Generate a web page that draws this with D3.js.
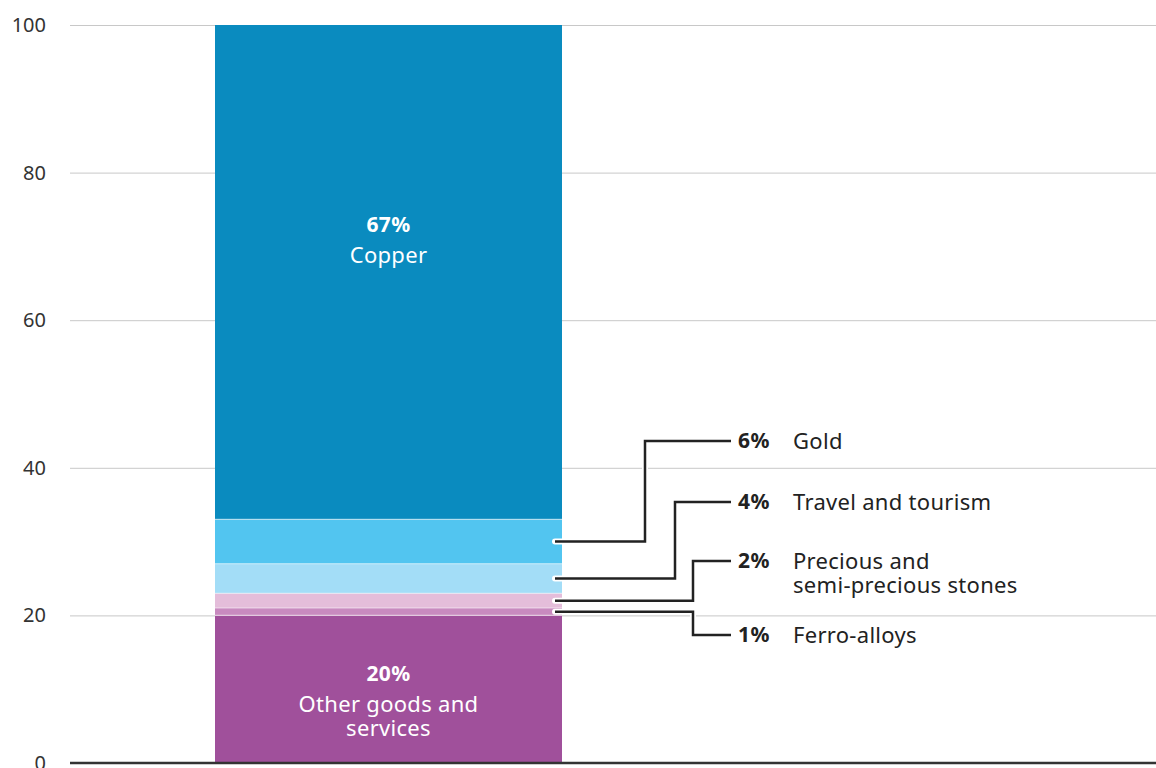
<!DOCTYPE html>
<html>
<head>
<meta charset="utf-8">
<script src="https://cdn.jsdelivr.net/npm/d3@7"></script>
<style>
  html, body { margin: 0; padding: 0; background: #fff; }
  svg { display: block; font-family: "Noto Sans", "Open Sans", sans-serif; }
</style>
</head>
<body>
<svg id="chart" width="1156" height="768"></svg>
<script>
// Export composition, share of total (%), stacked bottom to top
const segments = ["Other goods and services", "Ferro-alloys", "Precious and semi-precious stones", "Travel and tourism", "Gold", "Copper"];
const shares = [20, 1, 2, 4, 6, 67];
const colors = ["#a0509b", "#c88abf", "#e4bdda", "#a3ddf7", "#52c5f0", "#0a8bbf"];
const yTicks = [0, 20, 40, 60, 80, 100];

// Segments labelled inside the bar, and those labelled with callouts
const insideLines = {
  "Copper": ["Copper"],
  "Other goods and services": ["Other goods and", "services"]
};
const calloutLines = {
  "Gold": ["Gold"],
  "Travel and tourism": ["Travel and tourism"],
  "Precious and semi-precious stones": ["Precious and", "semi-precious stones"],
  "Ferro-alloys": ["Ferro-alloys"]
};
// Callout geometry: label row y and x of the elbow, per segment
const calloutLayout = {
  "Gold": { labelY: 441, elbowX: 645 },
  "Travel and tourism": { labelY: 502, elbowX: 675 },
  "Precious and semi-precious stones": { labelY: 561, elbowX: 693 },
  "Ferro-alloys": { labelY: 635, elbowX: 693 }
};

const svg = d3.select("#chart");
const plotLeft = 70, plotRight = 1156, plotTop = 25, plotBottom = 763;

const y = d3.scaleLinear().domain([0, 100]).range([plotBottom, plotTop]);
const x = d3.scaleBand().domain(["Exports"]).range([215, 562]).padding(0);

// Stack the shares
let acc = 0;
const stacked = segments.map((name, i) => {
  const d = { name, value: shares[i], color: colors[i], y0: acc, y1: acc + shares[i] };
  acc += shares[i];
  return d;
});

// Gridlines and tick labels
const axis = d3.axisLeft(y).tickValues(yTicks).tickSize(-(plotRight - plotLeft)).tickPadding(24).tickFormat(d3.format("d"));
const gAxis = svg.append("g").attr("transform", `translate(${plotLeft},0)`).call(axis);
gAxis.select(".domain").remove();
gAxis.selectAll(".tick line").attr("stroke", "#c8c8c8").attr("stroke-width", 1);
gAxis.selectAll(".tick text").attr("fill", "#333").style("font-size", "20px")
  .style("font-family", "'Noto Sans', sans-serif");

// Bar segments
const bx = x("Exports"), bw = x.bandwidth();
svg.append("g").selectAll("rect").data(stacked).join("rect")
  .attr("x", bx).attr("width", bw)
  .attr("y", d => y(d.y1)).attr("height", d => y(d.y0) - y(d.y1))
  .attr("fill", d => d.color);

// Thin light separators between segments
svg.append("g").selectAll("line").data(stacked.slice(1)).join("line")
  .attr("x1", bx).attr("x2", bx + bw)
  .attr("y1", d => y(d.y0)).attr("y2", d => y(d.y0))
  .attr("stroke", "#fff").attr("stroke-opacity", 0.55).attr("stroke-width", 1.2);

// Baseline drawn on top of the bar
svg.append("line").attr("x1", plotLeft).attr("x2", plotRight).attr("y1", y(0)).attr("y2", y(0))
  .attr("stroke", "#333").attr("stroke-width", 2.5);

// Labels inside the bar
const copper = stacked.find(d => d.name === "Copper");
const other = stacked.find(d => d.name === "Other goods and services");
function insideLabel(d, topY) {
  const g = svg.append("g").attr("fill", "#fff").attr("text-anchor", "middle");
  g.append("text").attr("x", bx + bw / 2).attr("y", topY)
    .style("font-size", "21px").style("font-weight", "700").style("letter-spacing", "0.4px")
    .text(d.value + "%");
  insideLines[d.name].forEach((line, i) => {
    g.append("text").attr("x", bx + bw / 2).attr("y", topY + 31 + i * 24)
      .style("font-size", "22px").style("letter-spacing", "0.3px").text(line);
  });
}
insideLabel(copper, y(copper.y1) + 207);
insideLabel(other, y(other.y1) + 66);

// Callouts
const labelX = 738, nameX = 793, lineEnd = 731, lineStart = 555;
const callouts = stacked.filter(d => calloutLines[d.name]);
const path = d => {
  const L = calloutLayout[d.name];
  const sy = y((d.y0 + d.y1) / 2);
  return `M${lineStart},${sy}H${L.elbowX}V${L.labelY}H${lineEnd}`;
};
const gc = svg.append("g");
gc.selectAll("path.halo").data(callouts).join("path").attr("class", "halo")
  .attr("d", path).attr("fill", "none").attr("stroke", "#fff").attr("stroke-width", 6)
  .attr("stroke-linecap", "round").attr("stroke-linejoin", "miter");
gc.selectAll("path.lead").data(callouts).join("path").attr("class", "lead")
  .attr("d", path).attr("fill", "none").attr("stroke", "#222").attr("stroke-width", 2.5)
  .attr("stroke-linejoin", "miter");

callouts.forEach(d => {
  const L = calloutLayout[d.name];
  gc.append("text").attr("x", labelX).attr("y", L.labelY).attr("dy", "0.35em")
    .attr("fill", "#222").style("font-size", "21px").style("font-weight", "700")
    .style("letter-spacing", "0.4px").text(d.value + "%");
  calloutLines[d.name].forEach((line, i) => {
    gc.append("text").attr("x", nameX).attr("y", L.labelY + i * 24).attr("dy", "0.35em")
      .attr("fill", "#222").style("font-size", "22px").style("letter-spacing", "0.3px").text(line);
  });
});
</script>
</body>
</html>
